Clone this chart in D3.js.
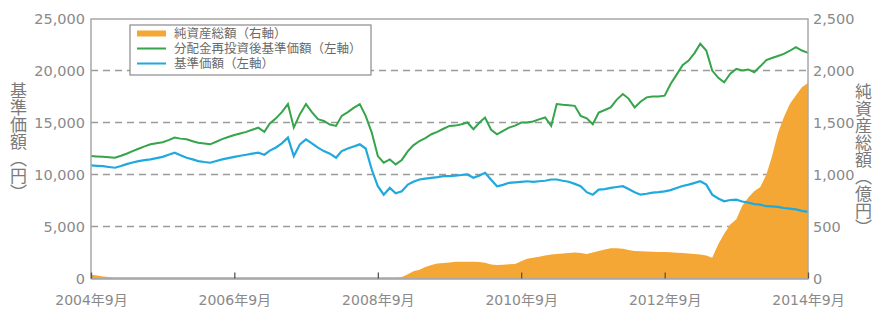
<!DOCTYPE html>
<html>
<head>
<meta charset="utf-8">
<script src="https://cdn.jsdelivr.net/npm/d3@7"></script>
<style>
  body { margin: 0; background: #fff; }
  svg { display: block; }
  text { font-family: "DejaVu Sans", "Noto Sans CJK JP", sans-serif; }
</style>
</head>
<body>
<svg></svg>
<script>
// monthly values, 2004年9月 .. 2014年9月 (121 months)
const startMonth = new Date(2004, 8, 1);

// 基準価額 (円)
const navValues = [
  10870, 10830, 10800, 10720, 10650, 10820, 11000, 11150, 11290, 11380,
  11450, 11580, 11700, 11900, 12100, 11850, 11610, 11450, 11290, 11200,
  11130, 11300, 11450, 11580, 11700, 11800, 11900, 12000, 12100, 11900,
  12300, 12600, 13000, 13550, 11770, 12900, 13380, 13000, 12580, 12250,
  12000, 11610, 12250, 12500, 12700, 12900, 12500, 10480, 8870, 8060,
  8710, 8200, 8380, 9030, 9300, 9520, 9600, 9680, 9750, 9840,
  9840, 9900, 9950, 10000, 9680, 9900, 10160, 9500, 8870, 9000,
  9200, 9250, 9300, 9350, 9300, 9350, 9400, 9520, 9520, 9400,
  9300, 9100, 8870, 8300, 8060, 8550, 8600, 8710, 8800, 8870,
  8600, 8300, 8060, 8150, 8250, 8300, 8380, 8500, 8700, 8900,
  9030, 9200, 9350, 9030, 8060, 7700, 7420, 7550, 7580, 7400,
  7300, 7150, 7100, 6950, 6930, 6880, 6780, 6720, 6650, 6500,
  6400
];

// 分配金再投資後基準価額 (円)
const reinvestValues = [
  11770, 11730, 11700, 11650, 11610, 11800, 12000, 12250, 12480, 12700,
  12900, 13000, 13100, 13300, 13550, 13450, 13380, 13200, 13060, 12980,
  12900, 13150, 13400, 13600, 13800, 13950, 14100, 14300, 14500, 14100,
  14900, 15400, 16000, 16770, 14510, 15800, 16770, 16000, 15320, 15150,
  14800, 14670, 15640, 16000, 16400, 16770, 15640, 14030, 11770, 11130,
  11450, 10970, 11400, 12250, 12800, 13220, 13500, 13870, 14100, 14400,
  14670, 14700, 14830, 15000, 14350, 15000, 15480, 14300, 13870, 14200,
  14510, 14700, 15000, 15000, 15100, 15300, 15480, 14670, 16770, 16700,
  16650, 16600, 15640, 15400, 14830, 15960, 16200, 16450, 17200, 17740,
  17300, 16450, 17000, 17420, 17500, 17500, 17580, 18700, 19600, 20500,
  20960, 21700, 22570, 21920, 19990, 19300, 18870, 19700, 20150, 20000,
  20100, 19830, 20400, 21000, 21200, 21400, 21600, 21900, 22250, 21920,
  21700
];

// 純資産総額 (億円)
const assetValues = [
  35, 30, 20, 15, 12, 12, 12, 12, 12, 12,
  12, 12, 12, 12, 12, 12, 12, 12, 12, 12,
  12, 12, 12, 12, 12, 12, 12, 12, 12, 12,
  12, 12, 12, 12, 12, 12, 12, 12, 12, 12,
  12, 12, 12, 12, 12, 12, 12, 12, 12, 12,
  12, 12, 15, 40, 70, 85, 110, 130, 145, 150,
  155, 160, 160, 162, 160, 158, 152, 135, 130, 133,
  137, 140, 165, 190, 200, 210, 220, 230, 235, 240,
  245, 250, 245, 235, 250, 265, 280, 290, 290, 285,
  275, 265, 262, 260, 258, 255, 255, 252, 248, 245,
  240, 235, 230, 222, 200, 330, 430, 520, 570, 700,
  780, 840, 880, 1000, 1170, 1400, 1550, 1680, 1760, 1840,
  1880
];

const leftTicks = [0, 5000, 10000, 15000, 20000, 25000];
const rightTicks = [0, 500, 1000, 1500, 2000, 2500];
const xTickLabels = ['2004年9月', '2006年9月', '2008年9月', '2010年9月', '2012年9月', '2014年9月'];

const legendItems = [
  { name: '純資産総額（右軸）', color: '#f5a735', width: 6 },
  { name: '分配金再投資後基準価額（左軸）', color: '#35a44a', width: 2 },
  { name: '基準価額（左軸）', color: '#1fa9de', width: 2 }
];

const WIDTH = 873;
const HEIGHT = 311;
const PLOT = { left: 91, right: 808, top: 19, bottom: 278.5 };

const svg = d3.select('svg')
    .attr('width', WIDTH)
    .attr('height', HEIGHT);

const monthOf = i => d3.timeMonth.offset(startMonth, i);

const x = d3.scaleTime()
    .domain([startMonth, monthOf(navValues.length - 1)])
    .range([PLOT.left, PLOT.right]);
const yLeft = d3.scaleLinear().domain([0, 25000]).range([PLOT.bottom, PLOT.top - 0.5]);
const yRight = d3.scaleLinear().domain([0, 2500]).range([PLOT.bottom, PLOT.top - 0.5]);

// dashed grid
svg.append('g')
    .selectAll('line')
    .data(leftTicks.filter(t => t > 0 && t < 25000))
    .enter()
    .append('line')
    .attr('x1', PLOT.left)
    .attr('x2', PLOT.right)
    .attr('y1', d => yLeft(d))
    .attr('y2', d => yLeft(d))
    .attr('stroke', '#9a9a9a')
    .attr('stroke-width', 1.3)
    .attr('stroke-dasharray', '7,5');

// net assets area (right axis)
const area = d3.area()
    .x((d, i) => x(monthOf(i)))
    .y0(yRight(0))
    .y1(d => yRight(d));

svg.append('path')
    .datum(assetValues)
    .attr('d', area)
    .attr('fill', legendItems[0].color);

const line = d3.line()
    .x((d, i) => x(monthOf(i)))
    .y(d => yLeft(d));

svg.append('path')
    .datum(reinvestValues)
    .attr('d', line)
    .attr('fill', 'none')
    .attr('stroke', legendItems[1].color)
    .attr('stroke-width', 2);

svg.append('path')
    .datum(navValues)
    .attr('d', line)
    .attr('fill', 'none')
    .attr('stroke', legendItems[2].color)
    .attr('stroke-width', 2.2);

// frame
svg.append('rect')
    .attr('x', PLOT.left)
    .attr('y', PLOT.top)
    .attr('width', PLOT.right - PLOT.left)
    .attr('height', PLOT.bottom - PLOT.top)
    .attr('fill', 'none')
    .attr('stroke', '#a8a8a8')
    .attr('stroke-width', 1.5);

// axes
const xAxis = svg.append('g')
    .attr('transform', `translate(0, ${PLOT.bottom})`)
    .call(d3.axisBottom(x)
        .tickValues(xTickLabels.map((d, i) => monthOf(i * 24)))
        .tickFormat((d, i) => xTickLabels[i])
        .tickSizeInner(-6)
        .tickSizeOuter(0)
        .tickPadding(17));
xAxis.select('.domain').attr('stroke', '#a8a8a8').attr('stroke-width', 1.5);
xAxis.selectAll('.tick line').attr('stroke', '#555').attr('stroke-width', 1.3);
xAxis.selectAll('text').attr('fill', '#8a8a8a').attr('font-size', 14);

const leftAxis = svg.append('g')
    .attr('transform', `translate(${PLOT.left}, 0)`)
    .call(d3.axisLeft(yLeft)
        .tickValues(leftTicks)
        .tickFormat(d3.format(','))
        .tickSize(0)
        .tickPadding(6));
leftAxis.select('.domain').remove();
leftAxis.selectAll('text').attr('fill', '#8a8a8a').attr('font-size', 14.5);

const rightAxis = svg.append('g')
    .attr('transform', `translate(${PLOT.right}, 0)`)
    .call(d3.axisRight(yRight)
        .tickValues(rightTicks)
        .tickFormat(d3.format(','))
        .tickSize(0)
        .tickPadding(5));
rightAxis.select('.domain').remove();
rightAxis.selectAll('text').attr('fill', '#8a8a8a').attr('font-size', 14.5);

// axis titles (vertical)
svg.append('text')
    .text('基準価額（円）')
    .attr('x', 17)
    .attr('y', 142)
    .attr('text-anchor', 'middle')
    .style('writing-mode', 'vertical-rl')
    .attr('font-size', 17)
    .attr('fill', '#7a7a7a');

svg.append('text')
    .text('純資産総額（億円）')
    .attr('x', 862)
    .attr('y', 160)
    .attr('text-anchor', 'middle')
    .style('writing-mode', 'vertical-rl')
    .attr('font-size', 17)
    .attr('fill', '#7a7a7a');

// legend
const legend = svg.append('g').attr('transform', 'translate(130, 25)');
legend.append('rect')
    .attr('width', 241)
    .attr('height', 50)
    .attr('fill', '#fff')
    .attr('stroke', '#8a8a8a')
    .attr('stroke-width', 1.2);

const items = legend.selectAll('.item')
    .data(legendItems)
    .enter()
    .append('g')
    .classed('item', true)
    .attr('transform', (d, i) => `translate(0, ${8.5 + i * 15})`);

items.append('line')
    .attr('x1', 7)
    .attr('x2', 36)
    .attr('stroke', d => d.color)
    .attr('stroke-width', d => d.width);

items.append('text')
    .text(d => d.name)
    .attr('x', 44)
    .attr('dy', '0.36em')
    .attr('font-size', 12.5)
    .attr('fill', '#6a6a6a');
</script>
</body>
</html>
